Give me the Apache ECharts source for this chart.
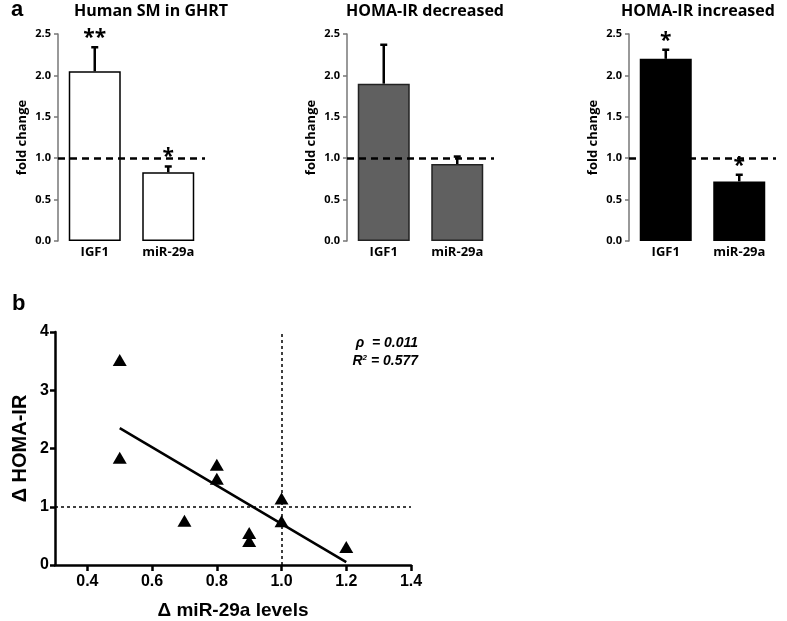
<!DOCTYPE html>
<html>
<head>
<meta charset="utf-8">
<script src="https://cdn.jsdelivr.net/npm/echarts@6/dist/echarts.min.js"></script>
<style>
html,body{margin:0;padding:0;background:#fff;}
#chart{width:787px;height:621px;}
</style>
</head>
<body>
<div id="chart"></div>
<script>
// ---- Data ----
const categories = ['IGF1', 'miR-29a'];
const panelTitles = ['Human SM in GHRT', 'HOMA-IR decreased', 'HOMA-IR increased'];
const meanGHRT = [2.05, 0.83];
const errGHRT = [0.29, 0.07];
const starsGHRT = ['**', '*'];
const meanDec = [1.90, 0.93];
const errDec = [0.47, 0.09];
const starsDec = ['', ''];
const meanInc = [2.20, 0.72];
const errInc = [0.11, 0.08];
const starsInc = ['*', '*'];
const refFold = 1.0;

const scatterX = [0.5, 0.5, 0.8, 0.8, 1.0, 0.7, 1.0, 0.9, 0.9, 1.2];
const scatterY = [3.52, 1.84, 1.72, 1.48, 1.14, 0.76, 0.75, 0.55, 0.41, 0.31];
const fitX = [0.5, 1.2];
const fitY = [2.35, 0.05];
const xTicksB = [0.4, 0.6, 0.8, 1.0, 1.2, 1.4];
const refXB = 1.0;
const refYB = 1.0;
const statRho = 'ρ  = 0.011';
const statR2 = ' = 0.577';

// ---- Layout ----
const FA = '"Open Sans", Lato, sans-serif';
const FB = '"Liberation Sans", Arial, sans-serif';
const panels = [
  {left: 58, mean: meanGHRT, err: errGHRT, stars: starsGHRT, fill: '#ffffff', border: '#000'},
  {left: 347, mean: meanDec, err: errDec, stars: starsDec, fill: '#606060', border: '#222'},
  {left: 629, mean: meanInc, err: errInc, stars: starsInc, fill: '#000000', border: '#000'}
];

const grids = [], xAxes = [], yAxes = [], series = [], graphics = [];

panels.forEach((p, i) => {
  grids.push({left: p.left, top: 34, width: 147, height: 207});
  xAxes.push({
    type: 'category', gridIndex: i, data: categories,
    axisLine: {show: false}, axisTick: {show: false},
    axisLabel: {fontFamily: FA, fontWeight: 'bold', fontSize: 13, color: '#000', margin: 5}
  });
  yAxes.push({
    type: 'value', gridIndex: i, min: 0, max: 2.5, interval: 0.5,
    name: 'fold change', nameLocation: 'middle', nameGap: 29,
    nameTextStyle: {fontFamily: FA, fontWeight: 'bold', fontSize: 13, color: '#000'},
    axisLine: {show: true, lineStyle: {color: '#777', width: 1.5}},
    axisTick: {show: true, length: 4, lineStyle: {color: '#777', width: 1.5}},
    splitLine: {show: false},
    axisLabel: {fontFamily: FA, fontWeight: 'bold', fontSize: 11, color: '#000', margin: 7,
      formatter: v => v.toFixed(1)}
  });
  series.push({
    type: 'bar', xAxisIndex: i, yAxisIndex: i, data: p.mean, barWidth: 52,
    itemStyle: {color: p.fill, borderColor: p.border, borderWidth: 1.5},
    z: 2,
    markLine: {
      silent: true, symbol: 'none', z: 5,
      lineStyle: {type: [7, 5], color: '#000', width: 2.5},
      label: {show: false},
      data: [{yAxis: refFold}]
    }
  });
  series.push({
    type: 'custom', xAxisIndex: i, yAxisIndex: i, z: 6,
    data: p.mean.map((m, k) => [k, m, p.err[k]]),
    renderItem: (params, api) => {
      const k = api.value(0), m = api.value(1), e = api.value(2);
      const p0 = api.coord([k, m]);
      const p1 = api.coord([k, m + e]);
      const star = p.stars[params.dataIndex];
      return {type: 'group', children: [
        {type: 'line', shape: {x1: p0[0], y1: p0[1], x2: p1[0], y2: p1[1]}, style: {stroke: '#000', lineWidth: 2.5}},
        {type: 'line', shape: {x1: p1[0] - 3.5, y1: p1[1], x2: p1[0] + 3.5, y2: p1[1]}, style: {stroke: '#000', lineWidth: 2.5}},
        {type: 'text', style: {text: star, x: p1[0], y: p1[1] - 9, align: 'center', verticalAlign: 'middle',
          font: 'bold 21px ' + FA, fill: '#000'}}
      ]};
    }
  });
});

const titleCenters = [151, 425, 698];
panelTitles.forEach((t, i) => {
  graphics.push({type: 'text', x: titleCenters[i], y: 11,
    style: {text: t, font: 'bold 16px ' + FA, fill: '#000', align: 'center', verticalAlign: 'middle'}});
});
graphics.push({type: 'text', x: 11, y: 10, style: {text: 'a', font: 'bold 22px ' + FB, fill: '#000', verticalAlign: 'middle'}});
graphics.push({type: 'text', x: 12, y: 304, style: {text: 'b', font: 'bold 22px ' + FB, fill: '#000', verticalAlign: 'middle'}});
graphics.push({type: 'text', x: 418, y: 343, style: {text: statRho, font: 'italic bold 14px ' + FB, fill: '#000', align: 'right', verticalAlign: 'middle'}});
graphics.push({type: 'text', x: 418, y: 361, style: {
  text: '{r|R}{s|2}{v|' + statR2 + '}',
  rich: {
    r: {font: 'italic bold 14px ' + FB, fill: '#000'},
    s: {font: 'italic bold 8px ' + FB, fill: '#000', verticalAlign: 'top', padding: [0, 0, 6, 0]},
    v: {font: 'italic bold 14px ' + FB, fill: '#000'}
  },
  align: 'right', verticalAlign: 'middle'}});

// ---- Panel b ----
const gb = 3;
grids.push({left: 55, top: 332, width: 356, height: 235});
xAxes.push({
  type: 'value', gridIndex: gb, min: 0.3, max: 1.4,
  name: 'Δ miR-29a levels', nameLocation: 'middle', nameGap: 36,
  nameTextStyle: {fontFamily: FB, fontWeight: 'bold', fontSize: 19, color: '#000'},
  axisLine: {show: true, onZero: false, lineStyle: {color: '#000', width: 2.5}},
  axisTick: {show: true, length: 6, customValues: xTicksB, lineStyle: {color: '#000', width: 2.5}},
  axisLabel: {customValues: xTicksB, fontFamily: FB, fontWeight: 'bold', fontSize: 16, color: '#000', margin: 9,
    formatter: v => v.toFixed(1)},
  splitLine: {show: false}
});
yAxes.push({
  type: 'value', gridIndex: gb, min: 0, max: 4, interval: 1,
  name: 'Δ HOMA-IR', nameLocation: 'middle', nameGap: 25,
  nameTextStyle: {fontFamily: FB, fontWeight: 'bold', fontSize: 20, color: '#000'},
  axisLine: {show: true, onZero: false, lineStyle: {color: '#000', width: 2.5}},
  axisTick: {show: true, length: 5, lineStyle: {color: '#000', width: 2.5}},
  axisLabel: {fontFamily: FB, fontWeight: 'bold', fontSize: 16, color: '#000', margin: 6},
  splitLine: {show: false}
});
series.push({
  type: 'line', xAxisIndex: gb, yAxisIndex: gb, data: fitX.map((x, k) => [x, fitY[k]]),
  symbol: 'none', lineStyle: {color: '#000', width: 2.5}, z: 3,
  markLine: {
    silent: true, symbol: 'none', label: {show: false},
    lineStyle: {type: [3, 3], color: '#000', width: 1.5},
    data: [{xAxis: refXB}, {yAxis: refYB}]
  }
});
series.push({
  type: 'scatter', xAxisIndex: gb, yAxisIndex: gb,
  data: scatterX.map((x, k) => [x, scatterY[k]]),
  symbol: 'triangle', symbolSize: [14, 12], itemStyle: {color: '#000', opacity: 1}, z: 4
});

const chart = echarts.init(document.getElementById('chart'), null, {renderer: 'canvas'});
chart.setOption({
  animation: false,
  backgroundColor: '#fff',
  grid: grids, xAxis: xAxes, yAxis: yAxes, series: series,
  graphic: graphics
});
</script>
</body>
</html>
